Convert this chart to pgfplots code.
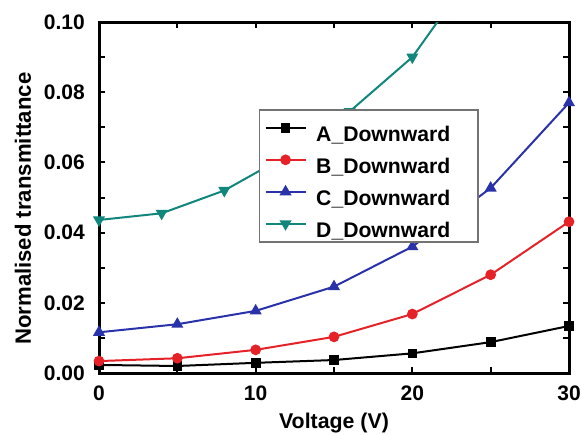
\documentclass[border=0pt]{standalone}
\usepackage{pgfplots}
\pgfplotsset{compat=1.18}
\usepackage{fontspec}
\setmainfont{Liberation Sans}
\definecolor{cA}{RGB}{0,0,0}
\definecolor{cB}{RGB}{228,34,40}
\definecolor{cC}{RGB}{42,50,170}
\definecolor{cD}{RGB}{16,134,124}
\newcommand{\ff}{\fontsize{12.6}{15}\selectfont\bfseries}
\newcommand{\fl}{\fontsize{12.7}{15}\selectfont\bfseries}
\newcommand{\fx}{\fontsize{12.8}{15}\selectfont\bfseries}
\newcommand{\fy}{\fontsize{13.3}{15}\selectfont\bfseries}
\begin{document}
\begin{tikzpicture}
\begin{axis}[
  name=ax,
  scale only axis,
  width=282pt, height=210.6pt,
  xmin=0, xmax=30, ymin=0, ymax=0.1,
  xtick={0,10,20,30},
  minor xtick={5,15,25},
  ytick={0,0.02,0.04,0.06,0.08,0.1},
  minor ytick={0.01,0.03,0.05,0.07,0.09},
  tick align=inside,
  major tick length=3.6pt, minor tick length=3.6pt,
  every tick/.style={line width=1.2pt, black},
  axis line style={line width=1.8pt},
  /pgf/number format/assume math mode=true,
  tick label style={font=\ff},
  yticklabel style={/pgf/number format/fixed, /pgf/number format/fixed zerofill, /pgf/number format/precision=2, xshift=-5pt},
  xticklabel style={yshift=-4pt},
  scaled y ticks=false,
  xlabel={Voltage (V)},
  ylabel={Normalised transmittance},
  every axis x label/.style={at={(axis description cs:0.5,-0.142)}, anchor=center, font=\fx},
  every axis y label/.style={at={(axis description cs:-0.162,0.468)}, anchor=center, rotate=90, font=\fy},
  legend style={at={(0.340,0.752)}, anchor=north west, draw=black!55, line width=0.9pt, fill=white,
    font=\fl, inner xsep=3pt, inner ysep=2.4pt, row sep=2.4pt,
    nodes={inner sep=0pt, text height=16.5pt, text depth=0.3pt},
    cells={anchor=west},
    /tikz/every odd column/.append style={column sep=5.8pt}},
  legend image code/.code={\draw[mark repeat=2, mark phase=2, line width=1.2pt] plot coordinates {(0pt,0pt)(12pt,0pt)(24pt,0pt)};},
  clip=true,
]
\addplot[cA, line width=1.2pt, mark=square*, mark size=2.3pt, mark options={solid}] coordinates {
  (0,0.0023) (5,0.0020) (10,0.0029) (15,0.0037) (20,0.0056) (25,0.0088) (30,0.0134)};
\addlegendentry{\fl\makebox[94pt][l]{A\_Downward}}
\addplot[cB, line width=1.2pt, mark=*, mark size=2.6pt] coordinates {
  (0,0.0034) (5,0.0042) (10,0.0066) (15,0.0103) (20,0.0168) (25,0.0280) (30,0.0431)};
\addlegendentry{\fl B\_Downward}
\addplot[cC, line width=1.2pt, mark=triangle*, mark size=3pt] coordinates {
  (0,0.0116) (5,0.0139) (10,0.0177) (15,0.0246) (20,0.0360) (25,0.0527) (30,0.0770)};
\addlegendentry{\fl C\_Downward}
\addplot[cD, line width=1.2pt, mark=triangle*, mark size=3pt, mark options={rotate=180}] coordinates {
  (0,0.0436) (4,0.0455) (8,0.0520) (12,0.0620) (16,0.0745) (20,0.0900) (24,0.1150)};
\addlegendentry{\fl D\_Downward}
\end{axis}
\pgfresetboundingbox
\path[use as bounding box] ([xshift=-59.4pt,yshift=-36.6pt]ax.south west) rectangle ([xshift=7.2pt,yshift=13.2pt]ax.north east);
\end{tikzpicture}
\end{document}
